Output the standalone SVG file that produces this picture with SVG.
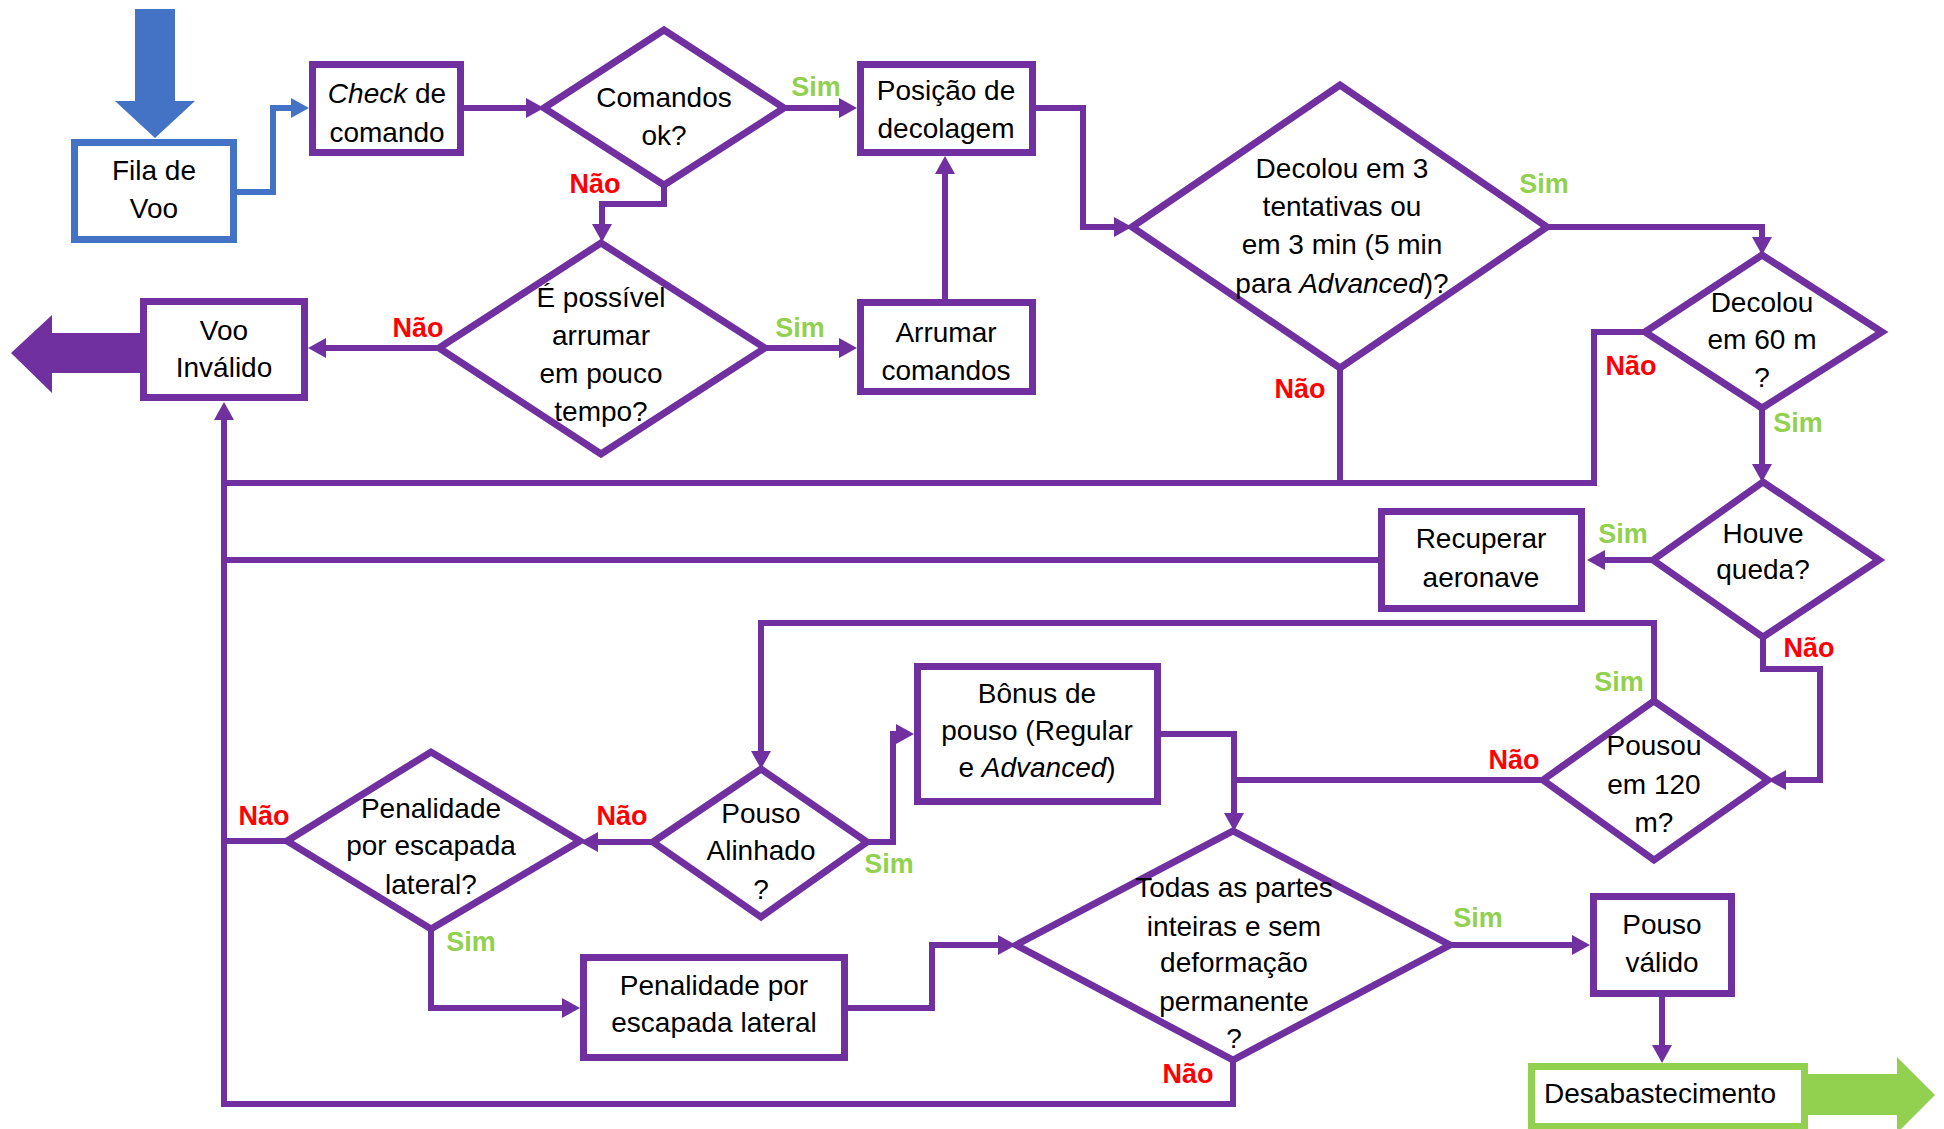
<svg xmlns="http://www.w3.org/2000/svg" width="1944" height="1129" viewBox="0 0 1944 1129">
  <style>
    .box { fill: #ffffff; stroke: #7030A0; stroke-width: 7; }
    .dia { fill: #ffffff; stroke: #7030A0; stroke-width: 7; stroke-linejoin: miter; }
    .t { font-family: "Liberation Sans", Arial, sans-serif; font-size: 28px; fill: #000000; text-anchor: middle; }
    .sim { font-family: "Liberation Sans", Arial, sans-serif; font-size: 27px; font-weight: bold; fill: #92D050; text-anchor: middle; }
    .nao { font-family: "Liberation Sans", Arial, sans-serif; font-size: 27px; font-weight: bold; fill: #FF0000; text-anchor: middle; }
    .c { fill: none; stroke: #7030A0; stroke-width: 6; stroke-linejoin: miter; }
    .cb { fill: none; stroke: #4472C4; stroke-width: 6; }
    .ar { marker-end: url(#head); }
  </style>
  <defs>
    <marker id="head" markerUnits="userSpaceOnUse" markerWidth="20" markerHeight="22" refX="10" refY="10" orient="auto" viewBox="0 0 20 22">
      <path d="M0,0 L18,10 L0,20 z" fill="#7030A0"/>
    </marker>
    <marker id="headBlue" markerUnits="userSpaceOnUse" markerWidth="20" markerHeight="22" refX="10" refY="10" orient="auto" viewBox="0 0 20 22">
      <path d="M0,0 L18,10 L0,20 z" fill="#4472C4"/>
    </marker>
  </defs>

  <!-- entry / exit block arrows -->
  <polygon id="entrada" points="135,9 175,9 175,101 195,101 155,138 115,101 135,101" fill="#4472C4"/>
  <polygon id="saida-invalido" points="140,333 52,333 52,315 11,353 52,393 52,373 140,373" fill="#7030A0"/>
  <polygon id="saida-valido" points="1808,1074 1897,1074 1897,1057 1935,1095 1897,1133 1897,1115 1808,1115" fill="#92D050"/>

  <!-- connectors -->
  <g id="connectors">
    <path class="cb" d="M237,192 H273 V108 H301" marker-end="url(#headBlue)"/>
    <path class="c ar" d="M464,108 H536"/>
    <path class="c ar" d="M664,185 V204 H602 V234"/>
    <path class="c ar" d="M784,108 H849"/>
    <path class="c ar" d="M1036,108 H1083 V227 H1124"/>
    <path class="c ar" d="M945,299 V164"/>
    <path class="c ar" d="M765,348 H849"/>
    <path class="c ar" d="M439,348 H316"/>
    <path class="c ar" d="M1547,227 H1762 V247"/>
    <path class="c" d="M1645,332 H1594 V483 H224"/>
    <path class="c" d="M1340,368 V483"/>
    <path class="c ar" d="M1233,1060 V1104 H224 V410"/>
    <path class="c ar" d="M1762,408 V474"/>
    <path class="c ar" d="M1653,560 H1595"/>
    <path class="c" d="M1378,560 H224"/>
    <path class="c ar" d="M1763,637 V669 H1820 V780 H1776"/>
    <path class="c ar" d="M1654,701 V623 H761 V761"/>
    <path class="c" d="M1543,780 H1234"/>
    <path class="c ar" d="M1161,734 H1234 V823"/>
    <path class="c ar" d="M867,842 H893 V734 H906"/>
    <path class="c ar" d="M653,842 H588"/>
    <path class="c" d="M287,841 H224"/>
    <path class="c ar" d="M431,929 V1008 H572"/>
    <path class="c ar" d="M848,1008 H932 V945 H1008"/>
    <path class="c ar" d="M1450,945 H1582"/>
    <path class="c ar" d="M1662,997 V1055"/>
  </g>

  <!-- branch labels -->
  <g id="labels">
    <text class="sim" x="816" y="96">Sim</text>
    <text class="nao" x="595" y="193">Não</text>
    <text class="sim" x="800" y="337">Sim</text>
    <text class="nao" x="418" y="337">Não</text>
    <text class="sim" x="1544" y="193">Sim</text>
    <text class="nao" x="1300" y="398">Não</text>
    <text class="nao" x="1631" y="375">Não</text>
    <text class="sim" x="1798" y="432">Sim</text>
    <text class="sim" x="1623" y="543">Sim</text>
    <text class="nao" x="1809" y="657">Não</text>
    <text class="sim" x="1619" y="691">Sim</text>
    <text class="nao" x="1514" y="769">Não</text>
    <text class="sim" x="889" y="873">Sim</text>
    <text class="nao" x="622" y="825">Não</text>
    <text class="nao" x="264" y="825">Não</text>
    <text class="sim" x="471" y="951">Sim</text>
    <text class="sim" x="1478" y="927">Sim</text>
    <text class="nao" x="1188" y="1083">Não</text>
  </g>

  <!-- nodes -->
  <g id="fila-de-voo">
    <rect x="74.5" y="142.5" width="159" height="97" fill="#ffffff" stroke="#4472C4" stroke-width="7"/>
    <text class="t" x="154" y="180">Fila de</text>
    <text class="t" x="154" y="218">Voo</text>
  </g>
  <g id="check-de-comando">
    <rect class="box" x="312.5" y="64.5" width="148" height="88"/>
    <text class="t" x="387" y="103"><tspan font-style="italic">Check</tspan> de</text>
    <text class="t" x="387" y="142">comando</text>
  </g>
  <g id="comandos-ok">
    <polygon class="dia" points="544,108 664,30 784,108 664,185"/>
    <text class="t" x="664" y="107">Comandos</text>
    <text class="t" x="664" y="145">ok?</text>
  </g>
  <g id="posicao-decolagem">
    <rect class="box" x="860.5" y="64.5" width="172" height="88"/>
    <text class="t" x="946" y="100">Posição de</text>
    <text class="t" x="946" y="138">decolagem</text>
  </g>
  <g id="arrumar-comandos">
    <rect class="box" x="860.5" y="302.5" width="172" height="89"/>
    <text class="t" x="946" y="342">Arrumar</text>
    <text class="t" x="946" y="380">comandos</text>
  </g>
  <g id="possivel-arrumar">
    <polygon class="dia" points="439,348 601,243 765,348 601,454"/>
    <text class="t" x="601" y="307">É possível</text>
    <text class="t" x="601" y="345">arrumar</text>
    <text class="t" x="601" y="383">em pouco</text>
    <text class="t" x="601" y="421">tempo?</text>
  </g>
  <g id="voo-invalido">
    <rect class="box" x="143.5" y="301.5" width="161" height="96"/>
    <text class="t" x="224" y="340">Voo</text>
    <text class="t" x="224" y="377">Inválido</text>
  </g>
  <g id="decolou-3-tentativas">
    <polygon class="dia" points="1132,227 1340,85 1547,227 1340,368"/>
    <text class="t" x="1342" y="178">Decolou em 3</text>
    <text class="t" x="1342" y="216">tentativas ou</text>
    <text class="t" x="1342" y="254">em 3 min (5 min</text>
    <text class="t" x="1342" y="293">para <tspan font-style="italic">Advanced</tspan>)?</text>
  </g>
  <g id="decolou-60m">
    <polygon class="dia" points="1645,332 1762,255 1882,332 1762,408"/>
    <text class="t" x="1762" y="312">Decolou</text>
    <text class="t" x="1762" y="349">em 60 m</text>
    <text class="t" x="1762" y="387">?</text>
  </g>
  <g id="houve-queda">
    <polygon class="dia" points="1653,560 1763,482 1879,560 1763,637"/>
    <text class="t" x="1763" y="543">Houve</text>
    <text class="t" x="1763" y="579">queda?</text>
  </g>
  <g id="recuperar-aeronave">
    <rect class="box" x="1381.5" y="511.5" width="200" height="97"/>
    <text class="t" x="1481" y="548">Recuperar</text>
    <text class="t" x="1481" y="587">aeronave</text>
  </g>
  <g id="pousou-120m">
    <polygon class="dia" points="1543,780 1654,701 1768,780 1654,860"/>
    <text class="t" x="1654" y="755">Pousou</text>
    <text class="t" x="1654" y="794">em 120</text>
    <text class="t" x="1654" y="832">m?</text>
  </g>
  <g id="bonus-pouso">
    <rect class="box" x="917.5" y="666.5" width="240" height="135"/>
    <text class="t" x="1037" y="703">Bônus de</text>
    <text class="t" x="1037" y="740">pouso (Regular</text>
    <text class="t" x="1037" y="777">e <tspan font-style="italic">Advanced</tspan>)</text>
  </g>
  <g id="pouso-alinhado">
    <polygon class="dia" points="653,842 761,769 867,842 761,917"/>
    <text class="t" x="761" y="823">Pouso</text>
    <text class="t" x="761" y="860">Alinhado</text>
    <text class="t" x="761" y="899">?</text>
  </g>
  <g id="penalidade-decisao">
    <polygon class="dia" points="287,841 431,752 580,841 431,929"/>
    <text class="t" x="431" y="818">Penalidade</text>
    <text class="t" x="431" y="855">por escapada</text>
    <text class="t" x="431" y="894">lateral?</text>
  </g>
  <g id="penalidade-escapada">
    <rect class="box" x="583.5" y="957.5" width="261" height="100"/>
    <text class="t" x="714" y="995">Penalidade por</text>
    <text class="t" x="714" y="1032">escapada lateral</text>
  </g>
  <g id="partes-inteiras">
    <polygon class="dia" points="1016,945 1233,831 1450,945 1233,1060"/>
    <text class="t" x="1234" y="897">Todas as partes</text>
    <text class="t" x="1234" y="936">inteiras e sem</text>
    <text class="t" x="1234" y="972">deformação</text>
    <text class="t" x="1234" y="1011">permanente</text>
    <text class="t" x="1234" y="1048">?</text>
  </g>
  <g id="pouso-valido">
    <rect class="box" x="1593.5" y="896.5" width="138" height="97"/>
    <text class="t" x="1662" y="934">Pouso</text>
    <text class="t" x="1662" y="972">válido</text>
  </g>
  <g id="desabastecimento">
    <rect x="1531.5" y="1066.5" width="273" height="60" fill="#ffffff" stroke="#92D050" stroke-width="7"/>
    <text class="t" x="1660" y="1103">Desabastecimento</text>
  </g>
</svg>
